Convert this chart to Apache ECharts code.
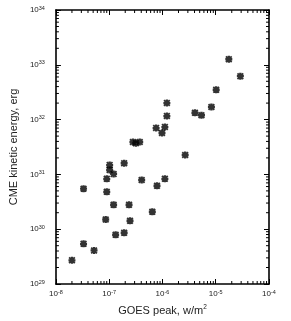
<!DOCTYPE html>
<html><head><meta charset="utf-8">
<script src="https://cdn.jsdelivr.net/npm/echarts@6/dist/echarts.min.js"></script>
<style>html,body{margin:0;padding:0;background:#fff}#c{width:291px;height:321px}</style>
</head><body><div id="c"></div>
<script>
const goesPeak = [2.0e-8, 3.3e-8, 5.2e-8, 3.3e-8, 8.6e-8, 9.0e-8, 9.0e-8, 1.02e-7, 1.02e-7, 1.21e-7, 1.21e-7, 1.32e-7, 1.91e-7, 1.91e-7, 2.36e-7, 2.46e-7, 4.07e-7, 6.45e-7, 2.79e-7, 3.16e-7, 3.74e-7, 7.6e-7, 1.11e-6, 9.8e-7, 1.21e-6, 1.21e-6, 1.11e-6, 7.9e-7, 2.67e-6, 4.07e-6, 5.4e-6, 8.3e-6, 1.02e-5, 1.76e-5, 2.9e-5];
const cmeEnergy = [2.7e29, 5.4e29, 4.1e29, 5.5e30, 1.5e30, 4.8e30, 8.3e30, 1.48e31, 1.2e31, 1.02e31, 2.8e30, 7.9e29, 1.6e31, 8.6e29, 2.8e30, 1.43e30, 7.9e30, 2.08e30, 3.9e31, 3.7e31, 3.9e31, 7.0e31, 7.3e31, 5.7e31, 1.16e32, 2.0e32, 8.3e30, 6.2e30, 2.26e31, 1.33e32, 1.2e32, 1.7e32, 3.5e32, 1.26e33, 6.2e32];
const xTickExps = [-8, -7, -6, -5, -4];
const yTickExps = [29, 30, 31, 32, 33, 34];
const xName = 'GOES peak, w/m{s|2}';
const yName = 'CME kinetic energy, erg';

const FONT = "'Liberation Sans', Arial, Helvetica, sans-serif";
const TXT = '#222';
const marker = 'path://M0 3.3L10 3.3L10 6.7L0 6.7Z M3.3 0L6.7 0L6.7 10L3.3 10Z M0 1.8L1.8 0L10 8.2L8.2 10Z M8.2 0L10 1.8L1.8 10L0 8.2Z M1.8 1.8L8.2 1.8L8.2 8.2L1.8 8.2Z';

function powLabel(v) {
  const e = Math.round(Math.log10(v));
  return '{a|10}{b|' + e + '}';
}
const richLab = {
  a: {fontSize: 8, fontFamily: FONT, color: TXT, lineHeight: 10},
  b: {fontSize: 5.5, fontFamily: FONT, color: TXT, verticalAlign: 'bottom', padding: [0, 0, 4, 0], lineHeight: 10}
};

const xMin = Math.pow(10, xTickExps[0]), xMax = Math.pow(10, xTickExps[xTickExps.length - 1]);
const yMin = Math.pow(10, yTickExps[0]), yMax = Math.pow(10, yTickExps[yTickExps.length - 1]);

const frameStyle = {color: '#000', width: 1.6};
const tickStyle = {color: '#000', width: 1};
function xAxisDef(pos, main) {
  return {
    type: 'log', logBase: 10, min: xMin, max: xMax, position: pos,
    axisLine: {show: true, onZero: false, lineStyle: frameStyle},
    axisTick: {show: true, inside: true, length: 5, lineStyle: tickStyle},
    splitLine: {show: false},
    axisLabel: {show: main, margin: 5, formatter: powLabel, rich: richLab},
    name: main ? xName : '', nameLocation: 'middle', nameGap: 20,
    nameTextStyle: {fontSize: 11, fontFamily: FONT, color: TXT, rich: {s: {fontSize: 6.5, fontFamily: FONT, color: TXT, verticalAlign: 'bottom', padding: [0, 0, 6, 0]}}}
  };
}
function yAxisDef(pos, main) {
  return {
    type: 'log', logBase: 10, min: yMin, max: yMax, position: pos,
    axisLine: {show: true, onZero: false, lineStyle: frameStyle},
    axisTick: {show: true, inside: true, length: 5, lineStyle: tickStyle},
    splitLine: {show: false},
    axisLabel: {show: main, margin: 11, formatter: powLabel, rich: richLab},
    name: main ? yName : '', nameLocation: 'middle', nameGap: 31,
    nameTextStyle: {fontSize: 11, fontFamily: FONT, color: TXT}
  };
}

const chart = echarts.init(document.getElementById('c'), null, {renderer: 'canvas'});
const option = {
  animation: false,
  backgroundColor: '#fff',
  grid: {left: 48, right: 22, top: 10, bottom: 35, containLabel: false},
  xAxis: [xAxisDef('bottom', true), xAxisDef('top', false)],
  yAxis: [yAxisDef('left', true), yAxisDef('right', false)],
  series: [{
    type: 'scatter', xAxisIndex: 0, yAxisIndex: 0,
    symbol: marker, symbolSize: 7,
    itemStyle: {color: '#000'},
    data: goesPeak.map((x, i) => [x, cmeEnergy[i]])
  }]
};
chart.setOption(option);

// log-style minor ticks (2..9 x 10^k) positioned through the axes' own scales
const g = [];
const rect = chart.getModel().getComponent('grid', 0).coordinateSystem.getRect();
const L = rect.x, R = rect.x + rect.width, T = rect.y, B = rect.y + rect.height;
const minLen = 3;
for (let k = 0; k < xTickExps.length - 1; k++) {
  for (let m = 2; m <= 9; m++) {
    const v = m * Math.pow(10, xTickExps[k]);
    const px = chart.convertToPixel({xAxisIndex: 0}, v);
    g.push({type: 'line', shape: {x1: px, y1: B, x2: px, y2: B - minLen}, style: {stroke: '#000', lineWidth: 1}, silent: true});
    g.push({type: 'line', shape: {x1: px, y1: T, x2: px, y2: T + minLen}, style: {stroke: '#000', lineWidth: 1}, silent: true});
  }
}
for (let k = 0; k < yTickExps.length - 1; k++) {
  for (let m = 2; m <= 9; m++) {
    const v = m * Math.pow(10, yTickExps[k]);
    const py = chart.convertToPixel({yAxisIndex: 0}, v);
    g.push({type: 'line', shape: {x1: L, y1: py, x2: L + minLen, y2: py}, style: {stroke: '#000', lineWidth: 1}, silent: true});
    g.push({type: 'line', shape: {x1: R, y1: py, x2: R - minLen, y2: py}, style: {stroke: '#000', lineWidth: 1}, silent: true});
  }
}
chart.setOption({graphic: g});
</script>
</body></html>
